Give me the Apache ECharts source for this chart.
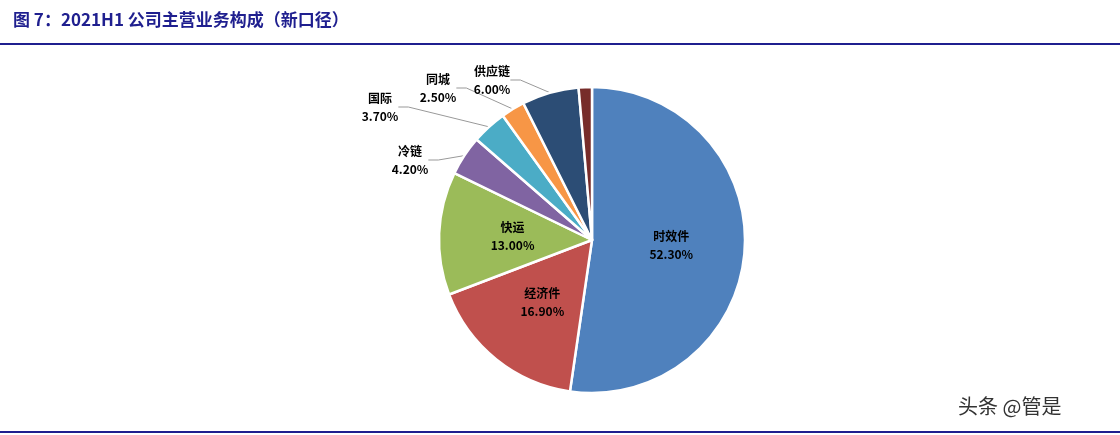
<!DOCTYPE html>
<html><head><meta charset="utf-8">
<script src="https://cdn.jsdelivr.net/npm/echarts@6/dist/echarts.min.js"></script>
<style>body{margin:0;background:#fff}#c{width:1120px;height:435px}</style></head>
<body><div id="c"></div>
<script>
const categories = ['时效件','经济件','快运','冷链','国际','同城','供应链','其他'];
const values = [52.3,16.9,13.0,4.2,3.7,2.5,6.0,1.4];
const valueLabels = ['52.30%','16.90%','13.00%','4.20%','3.70%','2.50%','6.00%',''];
const colors = ['#4F81BD','#C0504D','#9BBB59','#8064A2','#4BACC6','#F79646','#2C4D75','#772C2A'];
const outerLabelPos = {3:[410,160],4:[380,107],5:[438,88],6:[492,80]};
const chart = echarts.init(document.getElementById('c'));
chart.setOption({
  animation:false,
  title:{text:'图 7：2021H1 公司主营业务构成（新口径）',left:8,top:6,
    textStyle:{color:'#1F1F8F',fontSize:17,fontWeight:'bold',fontFamily:'Noto Sans CJK SC'}},
  graphic:[
    {type:'line',shape:{x1:0,y1:44,x2:1120,y2:44},style:{stroke:'#1F1F8F',lineWidth:2}},
    {type:'line',shape:{x1:0,y1:432,x2:1120,y2:432},style:{stroke:'#1F1F8F',lineWidth:2}},
    {type:'text',left:958,top:396,style:{text:'头条 @管是',fontSize:20,fill:'#333',fontFamily:'Noto Sans CJK SC'}}
  ],
  series:[{
    type:'pie',center:[592,240],radius:[0,153],startAngle:90,clockwise:true,
    itemStyle:{borderColor:'#fff',borderWidth:2.5},
    labelLayout:function(p){
      const pos=outerLabelPos[p.dataIndex];
      if(pos) return {x:pos[0],y:pos[1],align:'center',verticalAlign:'middle'};
    },
    data:categories.map((n,i)=>{
      const inside=i<3;
      return {name:n,value:values[i],itemStyle:{color:colors[i]},
        label:{show:i<7,position:inside?'inside':'outside',
          formatter:n+'\n'+valueLabels[i],color:'#000',fontSize:12,fontWeight:'bold',lineHeight:18,
          fontFamily:'Noto Sans CJK SC'},
        labelLine:{show:!inside&&i<7,length:10,length2:10,lineStyle:{color:'#999',width:1}}};
    })
  }]
});
</script></body></html>
